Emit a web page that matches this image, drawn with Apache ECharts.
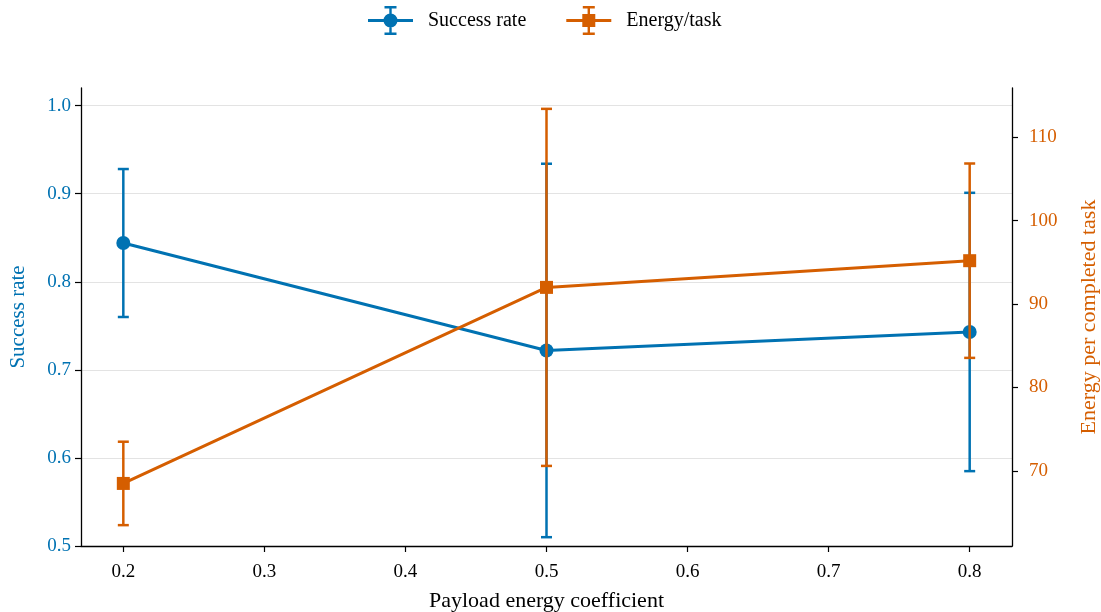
<!DOCTYPE html>
<html>
<head>
<meta charset="utf-8">
<script src="https://cdn.jsdelivr.net/npm/echarts@6/dist/echarts.min.js"></script>
<style>
  html, body { margin: 0; padding: 0; background: #fff; overflow: hidden; }
  #chart { width: 1101px; height: 612px; }
</style>
</head>
<body>
<div id="chart"></div>
<script>
// Payload energy coefficient sweep
const coefficients = [0.2, 0.5, 0.8];
const successRate = [0.844, 0.722, 0.743];
const successErr = [0.084, 0.212, 0.158];
const energyPerTask = [68.5, 92.0, 95.2];
const energyErr = [5.0, 21.4, 11.65];

const xTicks = [0.2, 0.3, 0.4, 0.5, 0.6, 0.7, 0.8];
const leftTicks = [0.5, 0.6, 0.7, 0.8, 0.9, 1.0];
const rightTicks = [70, 80, 90, 100, 110];

const BLUE = '#0072B2';
const ORANGE = '#D55E00';
const FONT = '"Liberation Serif", "DejaVu Serif", serif';

// legend glyph (45 x 29): line + marker + error bar with caps
const iconBase = 'M0 13 L45 13 L45 16 L0 16 Z M21.3 0 L23.7 0 L23.7 29 L21.3 29 Z M16.5 0 L28.5 0 L28.5 2.5 L16.5 2.5 Z M16.5 26.5 L28.5 26.5 L28.5 29 L16.5 29 Z ';
const iconCircle = 'path://' + iconBase + 'M22.5 7.5 A7 7 0 1 1 22.49 7.5 Z';
const iconSquare = 'path://' + iconBase + 'M16 8 L29 8 L29 21 L16 21 Z';

function errorData(xs, ys, es) {
  return xs.map((x, i) => [x, ys[i] - es[i], ys[i] + es[i]]);
}

function errorRenderer(color) {
  return function (params, api) {
    const x = api.value(0);
    const lo = api.coord([x, api.value(1)]);
    const hi = api.coord([x, api.value(2)]);
    const cap = 5.5;
    const style = { stroke: color, lineWidth: 2.5, fill: null };
    return {
      type: 'group',
      children: [
        { type: 'line', shape: { x1: lo[0], y1: lo[1], x2: hi[0], y2: hi[1] }, style },
        { type: 'line', shape: { x1: lo[0] - cap, y1: lo[1], x2: lo[0] + cap, y2: lo[1] }, style },
        { type: 'line', shape: { x1: hi[0] - cap, y1: hi[1], x2: hi[0] + cap, y2: hi[1] }, style }
      ]
    };
  };
}

const chart = echarts.init(document.getElementById('chart'), null, { renderer: 'canvas' });

const axisLine = { show: true, lineStyle: { color: '#000', width: 1.3 } };
const axisTick = (values) => ({ show: true, inside: false, length: 6, lineStyle: { color: '#000', width: 1.2 }, customValues: values });

chart.setOption({
  animation: false,
  backgroundColor: '#fff',
  textStyle: { fontFamily: FONT },
  grid: { left: 81, right: 89, top: 88, bottom: 66, containLabel: false, outerBoundsMode: 'none' },
  legend: {
    top: 1,
    left: 363,
    itemWidth: 45,
    itemHeight: 29,
    itemGap: 40,
    textStyle: { fontFamily: FONT, fontSize: 20, color: '#000', padding: [0, 0, 0, 10] },
    data: [
      { name: 'Success rate', icon: iconCircle, itemStyle: { color: BLUE } },
      { name: 'Energy/task', icon: iconSquare, itemStyle: { color: ORANGE } }
    ]
  },
  xAxis: {
    type: 'value',
    min: 0.17,
    max: 0.83,
    name: 'Payload energy coefficient',
    nameLocation: 'middle',
    nameGap: 44,
    nameTextStyle: { fontFamily: FONT, fontSize: 22, color: '#000' },
    axisLine: axisLine,
    axisTick: axisTick(xTicks),
    axisLabel: { customValues: xTicks, fontFamily: FONT, fontSize: 19, color: '#000', margin: 17, formatter: v => v.toFixed(1) },
    splitLine: { show: false }
  },
  yAxis: [
    {
      type: 'value',
      min: 0.5,
      max: 1.02,
      position: 'left',
      name: 'Success rate',
      nameLocation: 'middle',
      nameGap: 52,
      nameTextStyle: { fontFamily: FONT, fontSize: 21, color: BLUE },
      axisLine: axisLine,
      axisTick: axisTick(leftTicks),
      axisLabel: { customValues: leftTicks, fontFamily: FONT, fontSize: 19, color: BLUE, margin: 10, formatter: v => v.toFixed(1) },
      splitLine: { show: true, lineStyle: { color: '#e3e3e3', width: 1 } }
    },
    {
      type: 'value',
      min: 61.0,
      max: 115.9,
      position: 'right',
      name: 'Energy per completed task',
      nameLocation: 'middle',
      nameGap: 66,
      nameTextStyle: { fontFamily: FONT, fontSize: 22, color: ORANGE },
      axisLine: axisLine,
      axisTick: axisTick(rightTicks),
      axisLabel: { customValues: rightTicks, fontFamily: FONT, fontSize: 19, color: ORANGE, margin: 17 },
      splitLine: { show: false }
    }
  ],
  series: [
    {
      name: 'Success rate',
      type: 'line',
      yAxisIndex: 0,
      data: coefficients.map((x, i) => [x, successRate[i]]),
      symbol: 'circle',
      symbolSize: 14,
      lineStyle: { color: BLUE, width: 3 },
      itemStyle: { color: BLUE },
      z: 3
    },
    {
      name: 'Success rate',
      type: 'custom',
      yAxisIndex: 0,
      data: errorData(coefficients, successRate, successErr),
      renderItem: errorRenderer(BLUE),
      encode: { x: 0, y: [1, 2] },
      z: 3
    },
    {
      name: 'Energy/task',
      type: 'line',
      yAxisIndex: 1,
      data: coefficients.map((x, i) => [x, energyPerTask[i]]),
      symbol: 'rect',
      symbolSize: 13,
      lineStyle: { color: ORANGE, width: 3 },
      itemStyle: { color: ORANGE },
      z: 5
    },
    {
      name: 'Energy/task',
      type: 'custom',
      yAxisIndex: 1,
      data: errorData(coefficients, energyPerTask, energyErr),
      renderItem: errorRenderer(ORANGE),
      encode: { x: 0, y: [1, 2] },
      z: 5
    }
  ]
});
</script>
</body>
</html>
